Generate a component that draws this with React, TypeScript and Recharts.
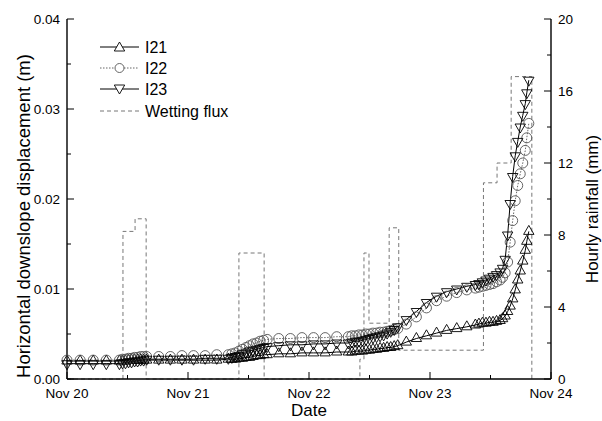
import React from 'react';
import { ComposedChart, Line, XAxis, YAxis, Legend } from 'recharts';

// hours since Nov 20 00:00
const hours = [
  0, 2.6, 5.2, 7.8, 10.4,
  11.0, 11.6, 12.2, 12.8, 13.4, 14.0, 14.6, 15.2, 15.8,
  18.2, 20.5, 22.8, 25.1, 27.4, 29.7, 32.0,
  32.7, 33.4, 34.1, 34.8, 35.5, 36.2, 36.9, 37.6, 38.3, 39.0, 39.7,
  42.0, 44.3, 46.6, 48.9, 51.2, 53.5, 55.8,
  56.5, 57.2, 57.9, 58.6, 59.3, 60.0, 60.7, 61.4, 62.1, 62.8, 63.5, 64.2, 64.9, 65.6,
  67.3, 69.3, 71.3, 73.3, 75.3, 77.3, 79.3,
  81.0, 81.7, 82.4, 83.1, 83.8, 84.5, 85.2, 85.9, 86.4, 86.9, 87.4, 87.9, 88.4, 88.9, 89.4, 89.9, 90.4, 90.9, 91.2, 91.6,
];

// horizontal downslope displacement (m)
const i21 = [
  0.0020, 0.0020, 0.0020, 0.0020, 0.0020,
  0.0020, 0.0020, 0.0021, 0.0021, 0.0021, 0.0021, 0.0021, 0.0021, 0.0021,
  0.0021, 0.0021, 0.0021, 0.0021, 0.0021, 0.0021, 0.0022,
  0.0022, 0.0022, 0.0023, 0.0023, 0.0024, 0.0024, 0.0025, 0.0026, 0.0026, 0.0027, 0.0027,
  0.0028, 0.0028, 0.0029, 0.0029, 0.0029, 0.0030, 0.0030,
  0.0030, 0.0031, 0.0031, 0.0031, 0.0032, 0.0032, 0.0033, 0.0033, 0.0034, 0.0034, 0.0035, 0.0035, 0.0036, 0.0037,
  0.0041, 0.0045, 0.0048, 0.0051, 0.0054, 0.0056, 0.0058,
  0.0060, 0.0061, 0.0062, 0.0062, 0.0063, 0.0063, 0.0064, 0.0065, 0.0067, 0.0070, 0.0075, 0.0081, 0.0089, 0.0099, 0.0110, 0.0120, 0.0131, 0.0143, 0.0153, 0.0164,
];

const i22 = [
  0.0021, 0.0021, 0.0021, 0.0021, 0.0021,
  0.0022, 0.0022, 0.0023, 0.0023, 0.0024, 0.0024, 0.0025, 0.0025, 0.0025,
  0.0025, 0.0025, 0.0026, 0.0026, 0.0026, 0.0027, 0.0027,
  0.0028, 0.0029, 0.0031, 0.0033, 0.0035, 0.0037, 0.0039, 0.0040, 0.0042, 0.0043, 0.0044,
  0.0045, 0.0045, 0.0046, 0.0046, 0.0046, 0.0047, 0.0047,
  0.0048, 0.0048, 0.0049, 0.0049, 0.0050, 0.0050, 0.0051, 0.0051, 0.0052, 0.0052, 0.0053, 0.0054, 0.0055, 0.0056,
  0.0061, 0.0069, 0.0079, 0.0087, 0.0092, 0.0096, 0.0099,
  0.0101, 0.0102, 0.0103, 0.0104, 0.0105, 0.0106, 0.0108, 0.0110, 0.0113, 0.0118, 0.0130, 0.0152, 0.0176, 0.0198, 0.0215, 0.0228, 0.0240, 0.0254, 0.0268, 0.0284,
];

const i23 = [
  0.0017, 0.0017, 0.0017, 0.0017, 0.0017,
  0.0018, 0.0018, 0.0019, 0.0019, 0.0020, 0.0020, 0.0021, 0.0021, 0.0022,
  0.0022, 0.0022, 0.0022, 0.0022, 0.0023, 0.0023, 0.0023,
  0.0024, 0.0025, 0.0026, 0.0028, 0.0029, 0.0031, 0.0032, 0.0033, 0.0034, 0.0035, 0.0036,
  0.0037, 0.0038, 0.0038, 0.0039, 0.0039, 0.0040, 0.0040,
  0.0041, 0.0042, 0.0042, 0.0043, 0.0044, 0.0045, 0.0046, 0.0047, 0.0048, 0.0049, 0.0051, 0.0053, 0.0055, 0.0058,
  0.0066, 0.0075, 0.0085, 0.0092, 0.0097, 0.0100, 0.0103,
  0.0105, 0.0106, 0.0108, 0.0110, 0.0112, 0.0114, 0.0116, 0.0119, 0.0123, 0.0133, 0.0160, 0.0195, 0.0225, 0.0248, 0.0264, 0.0280, 0.0293, 0.0306, 0.0318, 0.0332,
];

// hourly rainfall (mm), each value holds until the next change
const rainHours = [0, 11.1, 13.5, 15.7, 34.1, 39.1, 58.1, 58.9, 59.9, 63.9, 65.8, 82.6, 85.3, 88.1, 92.2];
const rainMm = [0, 8.2, 8.9, 0, 7.0, 0, 1.1, 7.0, 3.1, 8.4, 1.6, 10.9, 12.0, 16.8, 0];

const hourTicks = [0, 12, 24, 36, 48, 60, 72, 84, 96];
const dayLabels = ['Nov 20', 'Nov 21', 'Nov 22', 'Nov 23', 'Nov 24'];
const dispTicks = [0, 0.005, 0.01, 0.015, 0.02, 0.025, 0.03, 0.035, 0.04];
const dispLabels = ['0.00', '0.01', '0.02', '0.03', '0.04'];
const rainTicks = [0, 2, 4, 6, 8, 10, 12, 14, 16, 18, 20];
const rainLabels = ['0', '4', '8', '12', '16', '20'];

const FONT = '"Liberation Sans", Arial, Helvetica, sans-serif';
const GAP = 7;

const rows = hours.map((h, i) => ({ h, i21: i21[i], i22: i22[i], i23: i23[i] }));
const rainRows = rainHours.map((h, i) => ({ h, rain: rainMm[i] }));

const triUp = (cx: number, cy: number, r = 6) =>
  `M${cx},${cy - r}L${cx + r * 0.866},${cy + r / 2}L${cx - r * 0.866},${cy + r / 2}Z`;
const triDown = (cx: number, cy: number, r = 6) =>
  `M${cx},${cy + r}L${cx + r * 0.866},${cy - r / 2}L${cx - r * 0.866},${cy - r / 2}Z`;

const UpDot = (p: any) =>
  p.cx == null ? null : (
    <path key={`u${p.index}`} d={triUp(p.cx, p.cy)} fill="none" stroke="#000" strokeWidth={0.9} />
  );
const DownDot = (p: any) =>
  p.cx == null ? null : (
    <path key={`d${p.index}`} d={triDown(p.cx, p.cy)} fill="none" stroke="#000" strokeWidth={0.9} />
  );
const RingDot = (p: any) =>
  p.cx == null ? null : (
    <circle key={`c${p.index}`} cx={p.cx} cy={p.cy} r={5} fill="none" stroke="#555" strokeWidth={0.9} />
  );

// ticks point into the plot; only every other one carries a label
const LeftTick = (p: any) => {
  const ax = p.x + GAP;
  const major = p.index % 2 === 0;
  return (
    <g>
      <line x1={ax} x2={ax + (major ? 7 : 4)} y1={p.y} y2={p.y} stroke="#000" />
      {major && (
        <text x={p.x} y={p.y + 4.8} textAnchor="end" fontSize={13.5} fontFamily={FONT} fill="#000">
          {dispLabels[p.index / 2]}
        </text>
      )}
    </g>
  );
};

const RightTick = (p: any) => {
  const ax = p.x - GAP;
  const major = p.index % 2 === 0;
  return (
    <g>
      <line x1={ax} x2={ax - (major ? 7 : 4)} y1={p.y} y2={p.y} stroke="#000" />
      {major && (
        <text x={p.x} y={p.y + 4.8} textAnchor="start" fontSize={13.5} fontFamily={FONT} fill="#000">
          {rainLabels[p.index / 2]}
        </text>
      )}
    </g>
  );
};

const BottomTick = (p: any) => {
  const ay = p.y - GAP;
  const major = p.index % 2 === 0;
  return (
    <g>
      <line x1={p.x} x2={p.x} y1={ay} y2={ay - (major ? 7 : 4)} stroke="#000" />
      {major && (
        <text x={p.x} y={ay + 18.5} textAnchor="middle" fontSize={13.5} fontFamily={FONT} fill="#000">
          {dayLabels[p.index / 2]}
        </text>
      )}
    </g>
  );
};

function Key() {
  const ys = [11, 32, 53, 75];
  return (
    <svg width={170} height={90} style={{ display: 'block' }}>
      <line x1={5} x2={44} y1={ys[0]} y2={ys[0]} stroke="#000" />
      <path d={triUp(24.5, ys[0] + 1)} fill="#fff" stroke="#000" strokeWidth={0.9} />
      <line x1={5} x2={44} y1={ys[1]} y2={ys[1]} stroke="#666" strokeDasharray="1.5 1.5" />
      <circle cx={24.5} cy={ys[1]} r={4.5} fill="#fff" stroke="#555" strokeWidth={0.9} />
      <line x1={5} x2={44} y1={ys[2]} y2={ys[2]} stroke="#000" />
      <path d={triDown(24.5, ys[2] - 1)} fill="#fff" stroke="#000" strokeWidth={0.9} />
      <line x1={5} x2={44} y1={ys[3]} y2={ys[3]} stroke="#777" strokeDasharray="4 3" />
      {['I21', 'I22', 'I23', 'Wetting flux'].map((t, i) => (
        <text key={t} x={50} y={ys[i] + 5.5} fontSize={16} fontFamily={FONT} fill="#000">
          {t}
        </text>
      ))}
    </svg>
  );
}

export default function App() {
  return (
    <div style={{ position: 'absolute', left: 0, top: 0, width: 602, height: 421, background: '#fff' }}>
      <ComposedChart width={602} height={421} data={rows} margin={{ top: 19, right: 6, bottom: 2, left: 7 }}>
        <XAxis
          dataKey="h"
          type="number"
          domain={[0, 96]}
          ticks={hourTicks}
          interval={0}
          height={40}
          tickSize={0}
          tickMargin={GAP}
          tickLine={false}
          tick={BottomTick}
          axisLine={{ stroke: '#000', strokeWidth: 1.4 }}
          label={{
            content: (p: any) => (
              <text
                x={p.viewBox.x + p.viewBox.width / 2}
                y={p.viewBox.y + 37}
                textAnchor="middle"
                fontSize={17}
                fontFamily={FONT}
                fill="#000"
              >
                Date
              </text>
            ),
          }}
        />
        <XAxis
          xAxisId="top"
          orientation="top"
          type="number"
          domain={[0, 96]}
          height={0}
          tick={false}
          tickLine={false}
          axisLine={{ stroke: '#333', strokeWidth: 1.8 }}
        />
        <YAxis
          yAxisId="left"
          type="number"
          domain={[0, 0.04]}
          ticks={dispTicks}
          interval={0}
          width={60}
          tickSize={0}
          tickMargin={GAP}
          tickLine={false}
          tick={LeftTick}
          axisLine={{ stroke: '#000', strokeWidth: 1.4 }}
          label={{
            content: (p: any) => {
              const cx = p.viewBox.x + 16.5;
              const cy = p.viewBox.y + p.viewBox.height / 2 + 17;
              return (
                <text
                  transform={`translate(${cx},${cy}) rotate(-90)`}
                  textAnchor="middle"
                  dominantBaseline="central"
                  fontSize={18.5}
                  fontFamily={FONT}
                  fill="#000"
                >
                  Horizontal downslope displacement (m)
                </text>
              );
            },
          }}
        />
        <YAxis
          yAxisId="right"
          orientation="right"
          type="number"
          domain={[0, 20]}
          ticks={rainTicks}
          interval={0}
          width={45}
          tickSize={0}
          tickMargin={GAP}
          tickLine={false}
          tick={RightTick}
          axisLine={{ stroke: '#000', strokeWidth: 1.4 }}
          label={{
            content: (p: any) => {
              const cx = p.viewBox.x + 41;
              const cy = p.viewBox.y + p.viewBox.height / 2 + 10;
              return (
                <text
                  transform={`translate(${cx},${cy}) rotate(-90)`}
                  textAnchor="middle"
                  dominantBaseline="central"
                  fontSize={17}
                  fontFamily={FONT}
                  fill="#000"
                >
                  Hourly rainfall (mm)
                </text>
              );
            },
          }}
        />
        <Legend
          layout="vertical"
          align="center"
          verticalAlign="middle"
          content={<Key />}
          wrapperStyle={{ left: 95, top: 36, width: 170, height: 90 }}
        />
        <Line
          yAxisId="left"
          dataKey="i21"
          name="I21"
          type="linear"
          stroke="#000"
          strokeWidth={1}
          dot={UpDot}
          activeDot={false}
          isAnimationActive={false}
        />
        <Line
          yAxisId="left"
          dataKey="i22"
          name="I22"
          type="linear"
          stroke="#666"
          strokeWidth={1}
          strokeDasharray="1.5 1.5"
          dot={RingDot}
          activeDot={false}
          isAnimationActive={false}
        />
        <Line
          yAxisId="left"
          dataKey="i23"
          name="I23"
          type="linear"
          stroke="#000"
          strokeWidth={1}
          dot={DownDot}
          activeDot={false}
          isAnimationActive={false}
        />
        <Line
          yAxisId="right"
          data={rainRows}
          dataKey="rain"
          name="Wetting flux"
          type="stepAfter"
          stroke="#777"
          strokeWidth={1}
          strokeDasharray="4 3"
          dot={false}
          activeDot={false}
          isAnimationActive={false}
        />
      </ComposedChart>
    </div>
  );
}
